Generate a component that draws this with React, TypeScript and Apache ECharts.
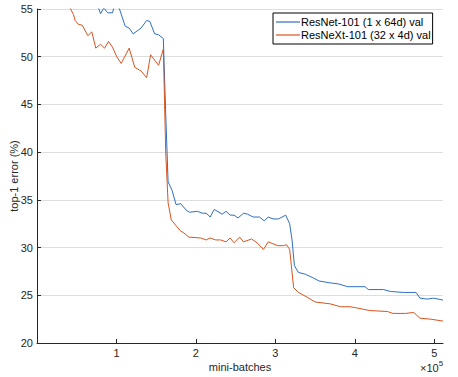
import React, { useEffect, useRef } from "react";
import * as echarts from "echarts";

const seriesNames = ["ResNet-101 (1 x 64d) val", "ResNeXt-101 (32 x 4d) val"];

const resnetX = [0.05, 0.3, 0.55, 0.77, 0.8, 0.84, 0.89, 0.95, 0.97, 1.03, 1.11, 1.16, 1.21, 1.31, 1.38, 1.42, 1.48, 1.53, 1.59, 1.62, 1.65, 1.7, 1.75, 1.81, 1.88, 1.92, 2.02, 2.08, 2.13, 2.18, 2.23, 2.33, 2.38, 2.43, 2.48, 2.53, 2.6, 2.65, 2.72, 2.8, 2.86, 2.91, 2.97, 3.04, 3.13, 3.18, 3.21, 3.24, 3.29, 3.38, 3.48, 3.55, 3.69, 3.79, 3.91, 4.09, 4.13, 4.17, 4.36, 4.45, 4.61, 4.77, 4.82, 4.91, 4.99, 5.11];
const resnetY = [74, 66, 59, 55.2, 54.5, 55.1, 54.6, 54.6, 55.2, 55.2, 53.2, 53.0, 52.4, 53.0, 53.8, 53.7, 52.4, 52.3, 51.9, 44.0, 36.9, 36.0, 34.5, 34.6, 33.9, 33.7, 33.8, 33.6, 33.6, 33.2, 34.0, 33.5, 33.8, 33.4, 33.4, 33.1, 33.6, 33.5, 33.2, 33.2, 32.8, 33.2, 33.0, 33.0, 33.4, 32.5, 30.8, 28.1, 27.4, 27.2, 26.8, 26.5, 26.3, 26.2, 25.9, 25.9, 25.9, 25.6, 25.6, 25.4, 25.3, 25.3, 24.7, 24.6, 24.7, 24.5];

const resnextX = [0.05, 0.2, 0.32, 0.41, 0.46, 0.48, 0.52, 0.57, 0.64, 0.69, 0.74, 0.8, 0.85, 0.9, 0.95, 1.01, 1.06, 1.16, 1.23, 1.31, 1.38, 1.43, 1.53, 1.59, 1.62, 1.65, 1.69, 1.81, 1.84, 1.91, 2.06, 2.13, 2.18, 2.25, 2.31, 2.38, 2.43, 2.48, 2.55, 2.6, 2.7, 2.77, 2.85, 2.91, 3.03, 3.1, 3.14, 3.18, 3.23, 3.29, 3.4, 3.5, 3.69, 3.82, 3.94, 4.01, 4.19, 4.41, 4.48, 4.64, 4.74, 4.82, 4.95, 5.11];
const resnextY = [68, 62, 57.5, 55.2, 54.4, 53.8, 53.4, 53.3, 52.2, 52.6, 50.9, 51.3, 50.9, 51.6, 51.0, 49.9, 49.3, 50.9, 48.9, 48.5, 47.8, 50.2, 49.1, 50.8, 40.0, 34.7, 32.9, 31.7, 31.6, 31.1, 31.0, 30.8, 31.0, 30.8, 30.8, 30.6, 31.0, 30.5, 31.1, 30.6, 30.9, 30.5, 29.8, 30.6, 30.2, 30.2, 30.3, 29.8, 25.8, 25.3, 24.8, 24.3, 24.1, 23.8, 23.8, 23.7, 23.4, 23.3, 23.1, 23.1, 23.2, 22.6, 22.5, 22.3];

const FONT = "'Liberation Sans', Arial, Helvetica, sans-serif";
const TXT = "#262626";

export default function App() {
  const ref = useRef<HTMLDivElement>(null);
  useEffect(() => {
    if (!ref.current) return;
    const chart = echarts.init(ref.current, undefined, { renderer: "svg" });
    chart.setOption({
      animation: false,
      backgroundColor: "#ffffff",
      textStyle: { fontFamily: FONT },
      grid: { left: 37, top: 9, right: 15, bottom: 34, containLabel: false, outerBoundsMode: "none" },
      legend: {
        orient: "vertical",
        left: 273,
        top: 13,
        data: seriesNames,
        icon: "rect",
        backgroundColor: "#ffffff",
        borderColor: "#000000",
        borderWidth: 1,
        borderRadius: 0,
        padding: [3, 2, 3, 3],
        itemWidth: 24,
        itemHeight: 1.2,
        itemGap: 1,
        textStyle: { fontSize: 11, lineHeight: 12, color: "#000", fontFamily: FONT, padding: [0, 0, 0, -4] },
      },
      xAxis: {
        type: "value",
        min: 0,
        max: 5.11,
        interval: 1,
        name: "mini-batches",
        nameLocation: "middle",
        nameGap: 18,
        nameMoveOverlap: false,
        nameTextStyle: { fontSize: 11, color: TXT, fontFamily: FONT },
        axisLine: { show: true, lineStyle: { color: TXT, width: 1 } },
        axisTick: { show: true, inside: true, length: 4, lineStyle: { color: TXT } },
        axisLabel: {
          fontSize: 11,
          color: TXT,
          margin: 4,
          fontFamily: FONT,
          showMaxLabel: false,
          formatter: (v: number) => (v === 0 ? "" : String(v)),
        },
        splitLine: { show: false },
      },
      yAxis: {
        type: "value",
        min: 20,
        max: 55,
        interval: 5,
        name: "top-1 error (%)",
        nameLocation: "middle",
        nameGap: 18,
        nameMoveOverlap: false,
        nameTextStyle: { fontSize: 11, color: TXT, fontFamily: FONT },
        axisLine: { show: true, lineStyle: { color: TXT, width: 1 } },
        axisTick: { show: true, inside: true, length: 4, lineStyle: { color: TXT } },
        axisLabel: { fontSize: 11, color: TXT, margin: 4, fontFamily: FONT },
        splitLine: { show: true, lineStyle: { color: "#dedede", width: 1 } },
      },
      graphic: [
        {
          type: "text",
          left: 420,
          top: 359,
          style: {
            text: "{a|×10}{b|5}",
            rich: {
              a: { fontSize: 11, fill: TXT, fontFamily: FONT, verticalAlign: "bottom" },
              b: { fontSize: 8, fill: TXT, fontFamily: FONT, verticalAlign: "top", padding: [0, 0, 6, 0] },
            },
          },
        },
      ],
      series: [
        {
          name: seriesNames[0],
          type: "line",
          symbol: "none",
          data: resnetX.map((x, i) => [x, resnetY[i]]),
          lineStyle: { color: "#2f6fc0", width: 1 },
          itemStyle: { color: "#2f6fc0" },
          clip: true,
        },
        {
          name: seriesNames[1],
          type: "line",
          symbol: "none",
          data: resnextX.map((x, i) => [x, resnextY[i]]),
          lineStyle: { color: "#d9531e", width: 1 },
          itemStyle: { color: "#d9531e" },
          clip: true,
        },
      ],
    });
    return () => chart.dispose();
  }, []);
  return (
    <div
      ref={ref}
      style={{ position: "fixed", left: 0, top: 0, width: 458, height: 377, background: "#fff" }}
    />
  );
}
